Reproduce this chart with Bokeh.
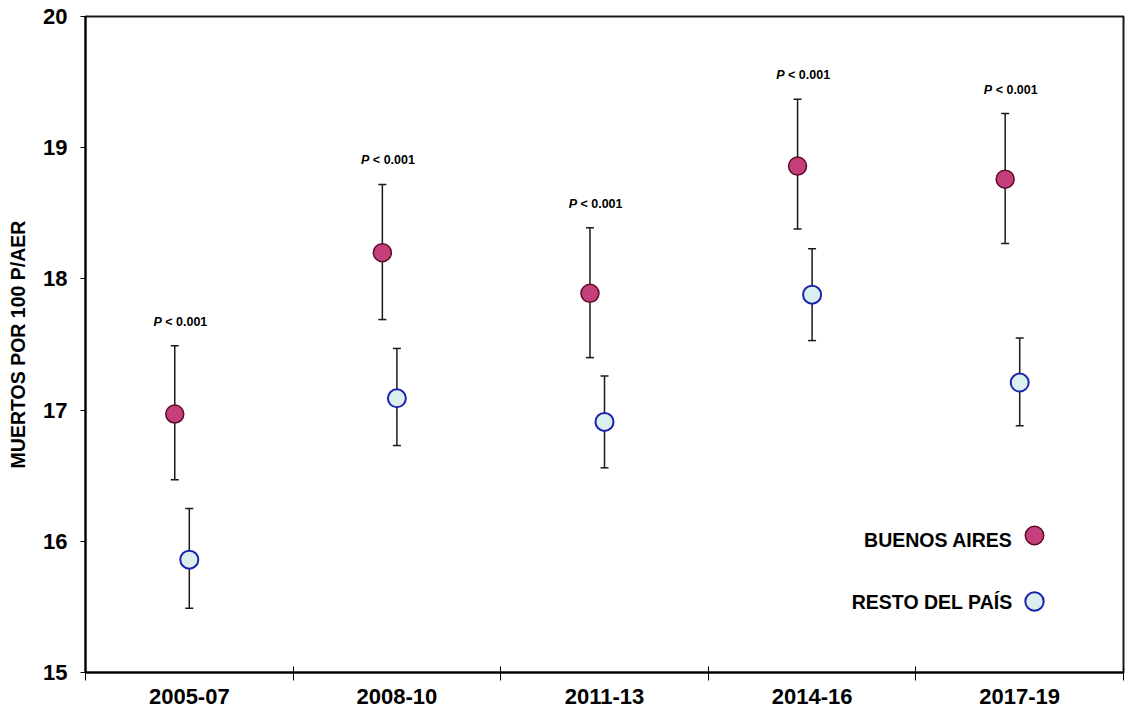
import numpy as np
from bokeh.plotting import figure
from bokeh.models import (Range1d, FixedTicker, Whisker, TeeHead, ColumnDataSource,
                          Legend, LegendItem, Label)
from bokeh.core.properties import value
from bokeh.embed import file_html
from bokeh.resources import INLINE

# ---- data ----
periods = ["2005-07", "2008-10", "2011-13", "2014-16", "2017-19"]
ba_rate = [16.97, 18.20, 17.89, 18.86, 18.76]
ba_low = [16.47, 17.69, 17.40, 18.38, 18.27]
ba_high = [17.49, 18.72, 18.39, 19.37, 19.26]
resto_rate = [15.86, 17.09, 16.91, 17.88, 17.21]
resto_low = [15.49, 16.73, 16.56, 17.53, 16.88]
resto_high = [16.25, 17.47, 17.26, 18.23, 17.55]
p_values = ["< 0.001", "< 0.001", "< 0.001", "< 0.001", "< 0.001"]
y_ticks = [15, 16, 17, 18, 19, 20]
series_names = ["BUENOS AIRES", "RESTO DEL PAÍS"]

FONT = "Liberation Sans"
n = len(periods)
centers = np.arange(n) + 0.5
bounds = list(np.arange(n + 1).astype(float))
ba_shift = -0.07

ba_src = ColumnDataSource(dict(x=centers + ba_shift, y=ba_rate, lo=ba_low, hi=ba_high,
                               p=["P"] * n, pv=p_values))
re_src = ColumnDataSource(dict(x=centers, y=resto_rate, lo=resto_low, hi=resto_high))

p = figure(width=1125, height=708, x_range=Range1d(0, n), y_range=Range1d(15, 20),
           output_backend="svg", toolbar_location=None,
           min_border_left=85, min_border_right=2, min_border_top=16, min_border_bottom=36)
p.background_fill_color = "white"
p.border_fill_color = "white"
p.outline_line_color = "#1a1a1a"
p.outline_line_width = 2
p.xgrid.visible = False
p.ygrid.visible = False

# x axis: labels at centres, ticks at category boundaries
xa = p.xaxis[0]
xa.ticker = FixedTicker(ticks=list(centers), minor_ticks=bounds)
xa.major_label_overrides = {float(c): lab for c, lab in zip(centers, periods)}
xa.major_tick_line_color = None
xa.major_tick_in = 0
xa.major_tick_out = 0
xa.minor_tick_in = 6
xa.minor_tick_out = 8
xa.minor_tick_line_color = "black"
xa.minor_tick_line_width = 1
xa.axis_line_color = "black"
xa.axis_line_width = 2
xa.major_label_standoff = 8
xa.major_label_text_font = FONT
xa.major_label_text_font_style = "bold"
xa.major_label_text_font_size = "22px"
xa.major_label_text_color = "black"

ya = p.yaxis[0]
ya.ticker = FixedTicker(ticks=y_ticks, minor_ticks=[])
ya.major_tick_in = 0
ya.major_tick_out = 5
ya.major_tick_line_color = "black"
ya.major_tick_line_width = 1
ya.axis_line_color = "black"
ya.axis_line_width = 2
ya.major_label_standoff = 13
ya.major_label_text_font = FONT
ya.major_label_text_font_style = "bold"
ya.major_label_text_font_size = "22px"
ya.major_label_text_color = "black"
ya.axis_label = "MUERTOS POR 100 P/AER"
ya.axis_label_text_font = FONT
ya.axis_label_text_font_style = "bold"
ya.axis_label_text_font_size = "19.5px"
ya.axis_label_text_color = "black"
ya.axis_label_standoff = 11

# error bars
for src in (ba_src, re_src):
    w = Whisker(base="x", lower="lo", upper="hi", source=src, dimension="height",
                line_color="#1a1a1a", line_width=1.5,
                upper_head=TeeHead(size=8, line_color="#1a1a1a", line_width=1.5),
                lower_head=TeeHead(size=8, line_color="#1a1a1a", line_width=1.5))
    w.level = "underlay"
    p.add_layout(w)

# points
r_ba = p.scatter("x", "y", source=ba_src, size=18, fill_color="#c43f7c",
                 line_color="#5c0c24", line_width=1.5)
r_re = p.scatter("x", "y", source=re_src, size=18, fill_color="#dcefef",
                 line_color="#1c22b0", line_width=2)

# p-value labels
p.text("x", "hi", text="p", source=ba_src, x_offset=-13, y_offset=-24,
       text_align="right", text_baseline="middle", text_font=value(FONT),
       text_font_style="bold italic", text_font_size="12.5px", text_color="black")
p.text("x", "hi", text="pv", source=ba_src, x_offset=-9.5, y_offset=-24,
       text_align="left", text_baseline="middle", text_font=value(FONT),
       text_font_style="bold", text_font_size="12.5px", text_color="black")

# legend: markers via Legend, names as labels to the left of the markers
legend = Legend(items=[LegendItem(label="", renderers=[r_ba]),
                       LegendItem(label="", renderers=[r_re])],
                location=(926, 48), orientation="vertical",
                glyph_width=46, glyph_height=46, spacing=20, padding=0, margin=0,
                label_standoff=0, border_line_color=None, background_fill_alpha=0)
p.add_layout(legend)
for name, ly in zip(series_names, (133, 71)):
    p.add_layout(Label(x=927, y=ly, x_units="screen", y_units="screen", text=name,
                       text_align="right", text_baseline="middle",
                       text_font=FONT, text_font_style="bold",
                       text_font_size="19.5px", text_color="black"))

open("out.html", "w").write(file_html(p, INLINE))
